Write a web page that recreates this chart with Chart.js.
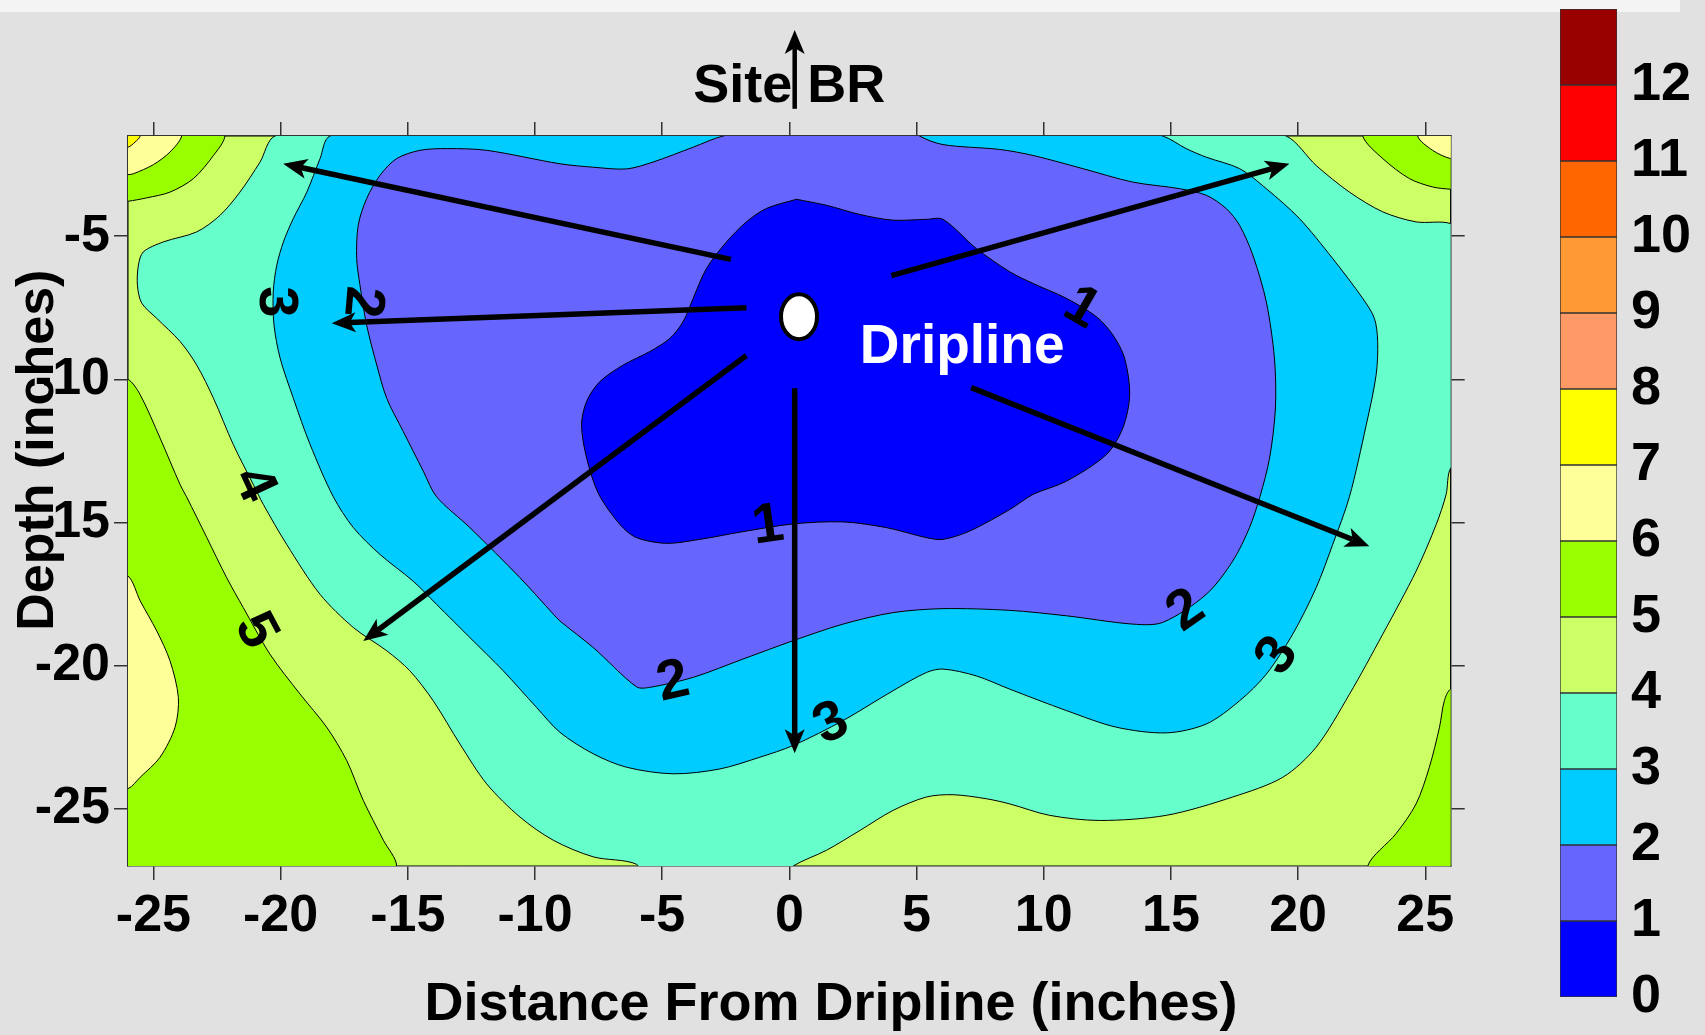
<!DOCTYPE html>
<html>
<head>
<meta charset="utf-8">
<script src="https://cdn.jsdelivr.net/npm/chart.js@4.4.1/dist/chart.umd.min.js"></script>
<style>
html, body { margin:0; padding:0; background:#e1e1e1; width:1705px; height:1035px; overflow:hidden; }
#strip { position:absolute; left:0; top:0; width:1680px; height:12px; background:#f4f4f4; }
#main { position:absolute; left:0; top:0; }
#bar { position:absolute; left:1555px; top:0; }
</style>
</head>
<body>
<div id="strip"></div>
<canvas id="main" width="1705" height="1035"></canvas>
<canvas id="bar" width="150" height="1035"></canvas>
<script>
// ---------- text ----------
const chartTitle = 'Site BR';
const xTitle = 'Distance From Dripline (inches)';
const yTitle = 'Depth (inches)';
const markerText = 'Dripline';

// ---------- axes ----------
const xTickValues = [-25, -20, -15, -10, -5, 0, 5, 10, 15, 20, 25];
const yTickValues = [-25, -20, -15, -10, -5];
const xRange = [-26, 26];
const yRange = [-27, -1.5];

// ---------- colour levels ----------
const levelEdges = [0, 1, 2, 3, 4, 5, 6, 7, 8, 9, 10, 11, 12, 13];
const levelTicks = [0, 1, 2, 3, 4, 5, 6, 7, 8, 9, 10, 11, 12];
const levelColors = ['#0000ff', '#6666ff', '#00ccff', '#66ffcc', '#ccff66', '#99ff00', '#ffff99',
                     '#ffff00', '#ff9966', '#ff9933', '#ff6600', '#ff0000', '#990000'];

// ---------- contour regions (x = distance, y = depth) ----------
const regionBackground = [[-26, -1.5], [26, -1.5], [26, -27], [-26, -27], [-26, -1.5]]; // level 4-5
const regionBlue = [[0.28,-3.71],[1.46,-3.92],[2.77,-4.24],[4.07,-4.44],[5.39,-4.41],[6.04,-4.41],[7.35,-5.43],[8.66,-6.24],[9.58,-6.65],[10.89,-7.17],[12.07,-7.81],[12.72,-8.45],[13.18,-9.26],[13.38,-10.54],[13.11,-11.7],[12.46,-12.63],[10.89,-13.56],[9.58,-14.02],[8.66,-14.55],[7.09,-15.3],[6.04,-15.59],[5.39,-15.53],[3.82,-15.18],[2.11,-14.98],[0.15,-15.05],[-1.82,-15.32],[-3.52,-15.59],[-4.83,-15.73],[-6.01,-15.53],[-6.66,-15.07],[-7.5,-14.0],[-7.97,-12.75],[-8.17,-11.59],[-7.97,-10.77],[-7.45,-10.08],[-6.53,-9.5],[-5.49,-9.03],[-4.7,-8.57],[-4.18,-7.99],[-3.78,-7.17],[-3.26,-6.13],[-2.47,-5.2],[-1.69,-4.5],[-0.9,-4.03],[0.28,-3.71]];
const regionPurple = [[1.5,-0.8],[-2.6,-1.5],[-3.78,-1.89],[-5.36,-2.41],[-6.4,-2.65],[-7.71,-2.59],[-9.02,-2.47],[-11.9,-2.0],[-13.47,-1.94],[-14.52,-2.0],[-15.44,-2.29],[-16.09,-2.87],[-16.62,-3.69],[-16.95,-4.62],[-17.01,-5.78],[-16.88,-6.71],[-16.62,-8.1],[-16.22,-9.5],[-15.83,-10.66],[-15.18,-11.82],[-14.39,-13.21],[-13.87,-14.1],[-12.56,-15.18],[-10.59,-16.93],[-9.28,-18.2],[-9.02,-18.44],[-7.71,-19.37],[-6.01,-20.74],[-5.49,-20.76],[-3.78,-20.41],[-1.82,-19.77],[0.15,-19.13],[2.11,-18.55],[4.07,-18.15],[6.04,-18.01],[8.66,-18.07],[10.89,-18.26],[13.5,-18.55],[14.68,-18.49],[16.39,-17.51],[17.43,-16.35],[18.09,-15.18],[18.5,-14.1],[18.88,-12.75],[19.11,-11.0],[19.07,-9.26],[18.75,-7.29],[18.22,-5.66],[17.7,-4.62],[17.17,-4.03],[16.39,-3.57],[15.34,-3.34],[13.5,-3.11],[11.54,-2.64],[9.58,-2.18],[8.27,-1.97],[6.04,-1.8],[5.12,-1.5],[4.0,-0.8],[1.5,-0.8]];
const regionCyan = [[0,-0.7],[-14,-0.7],[-18.06,-1.5],[-18.45,-2.29],[-18.97,-3.46],[-19.5,-4.38],[-19.89,-5.2],[-20.15,-6.01],[-20.29,-6.94],[-20.26,-8.1],[-20.02,-9.26],[-19.5,-10.66],[-18.84,-12.28],[-17.93,-14.1],[-17.14,-15.18],[-16.09,-16.12],[-14.79,-17.05],[-13.87,-17.86],[-12.56,-19.02],[-11.25,-20.18],[-9.94,-21.46],[-9.02,-22.33],[-7.71,-23.08],[-6.4,-23.55],[-4.57,-23.78],[-2.73,-23.61],[-1.16,-23.2],[0.15,-22.79],[2.11,-21.92],[4.07,-20.88],[5.39,-20.24],[6.04,-20.12],[7.35,-20.36],[8.66,-20.82],[10.89,-21.57],[12.85,-22.15],[14.82,-22.35],[16.39,-22.04],[17.7,-21.23],[18.75,-20.3],[19.79,-18.9],[20.71,-17.28],[21.36,-15.77],[22.02,-14.1],[22.68,-11.59],[23.07,-9.84],[23.13,-8.68],[23.0,-7.87],[22.54,-7.17],[21.36,-5.78],[20.05,-4.38],[18.75,-3.34],[17.7,-2.64],[16.39,-2.24],[15.6,-1.94],[14.68,-1.5],[11,-0.7],[0,-0.7]];
const regionAqua = [[0,-0.7],[-16,-0.7],[-20.22,-1.5],[-20.81,-2.41],[-21.6,-3.46],[-22.38,-4.27],[-23.3,-4.85],[-24.61,-5.2],[-25.4,-5.55],[-25.59,-6.01],[-25.63,-6.71],[-25.46,-7.34],[-24.87,-7.87],[-23.95,-8.68],[-23.3,-9.5],[-22.64,-10.66],[-21.86,-12.28],[-21.07,-13.68],[-20.68,-14.37],[-19.76,-15.77],[-18.45,-17.51],[-17.14,-18.67],[-15.83,-19.48],[-14.92,-20.18],[-14.0,-21.23],[-12.95,-22.74],[-11.9,-24.13],[-10.59,-25.29],[-9.28,-26.1],[-7.71,-26.68],[-6.01,-26.94],[-5.6,-27.6],[-0.6,-27.6],[0.15,-27.0],[1.46,-26.45],[2.77,-25.76],[4.07,-25.06],[5.39,-24.59],[6.43,-24.51],[7.74,-24.65],[8.66,-24.83],[10.23,-25.23],[12.2,-25.41],[14.82,-25.23],[17.43,-24.59],[19.4,-23.9],[20.71,-22.85],[22.02,-21.0],[23.33,-18.9],[24.64,-16.7],[25.43,-15.07],[25.82,-14.02],[26.0,-13.1],[26.9,-12.4],[26.9,-5.2],[26.0,-4.56],[24.64,-4.5],[23.33,-4.15],[22.02,-3.46],[20.71,-2.53],[19.53,-1.5],[16,-0.7],[0,-0.7]];
const regionGreenTL = [[-22.5,-0.8],[-22.19,-1.5],[-22.64,-2.18],[-23.43,-2.99],[-24.35,-3.46],[-25.26,-3.66],[-26.0,-3.78],[-26.8,-3.85],[-26.8,-0.8],[-22.5,-0.8]];
const regionPaleTL = [[-24.0,-0.8],[-23.89,-1.5],[-24.35,-2.06],[-25.0,-2.5],[-25.79,-2.82],[-26.0,-2.85],[-26.8,-2.9],[-26.8,-0.8],[-24.0,-0.8]];
const regionYellowTL = [[-25.4,-0.8],[-25.52,-1.5],[-25.72,-1.71],[-26.0,-1.89],[-26.8,-1.95],[-26.8,-0.8],[-25.4,-0.8]];
const regionGreenL = [[-26.8,-9.9],[-26.0,-10.0],[-25.52,-10.54],[-24.74,-12.05],[-23.95,-13.68],[-23.7,-14.1],[-22.9,-15.53],[-22.12,-16.93],[-21.47,-17.97],[-20.42,-19.6],[-19.24,-20.99],[-18.19,-22.15],[-17.4,-23.32],[-16.75,-24.71],[-15.96,-26.1],[-15.44,-27.0],[-16.0,-27.8],[-26.8,-27.8],[-26.8,-9.9]];
const regionPaleL = [[-26.8,-16.8],[-26.0,-16.87],[-25.52,-17.74],[-24.87,-18.79],[-24.35,-19.83],[-24.02,-21.11],[-24.15,-22.15],[-24.74,-23.2],[-25.52,-23.9],[-26.0,-24.3],[-26.8,-24.4],[-26.8,-16.8]];
const regionGreenTR = [[22.8,-0.8],[22.54,-1.5],[23.33,-2.29],[24.38,-2.99],[25.29,-3.28],[26.0,-3.36],[26.8,-3.4],[26.8,-0.8],[22.8,-0.8]];
const regionPaleTR = [[24.9,-0.8],[24.7,-1.5],[25.29,-2.0],[26.0,-2.29],[26.8,-2.3],[26.8,-0.8],[24.9,-0.8]];
const regionGreenBR = [[26.8,-20.7],[26.0,-20.82],[25.75,-21.23],[25.56,-22.15],[25.16,-23.55],[24.64,-24.83],[23.85,-25.87],[22.74,-27.0],[23.2,-27.8],[26.8,-27.8],[26.8,-20.7]];

// drawn top-most first
const regions = [
  {pts: regionYellowTL, level: 7}, {pts: regionPaleTL, level: 6}, {pts: regionGreenTL, level: 5},
  {pts: regionPaleTR, level: 6}, {pts: regionGreenTR, level: 5},
  {pts: regionPaleL, level: 6}, {pts: regionGreenL, level: 5}, {pts: regionGreenBR, level: 5},
  {pts: regionBlue, level: 0}, {pts: regionPurple, level: 1}, {pts: regionCyan, level: 2},
  {pts: regionAqua, level: 3}, {pts: regionBackground, level: 4, straight: true}
];

// ---------- contour labels ----------
const labelText  = ['3', '2', '4', '5', '1', '1', '2', '3', '2', '3'];
const labelX     = [-20.22, -16.81, -21.07, -21.0, 11.48, -0.84, -4.57, 1.65, 15.6, 19.2];
const labelY     = [-7.29, -7.29, -13.68, -18.79, -7.52, -15.13, -20.59, -22.04, -18.09, -19.66];
const labelAngle = [90, 95, 65, 62, 30, -8, -13, -25, -35, -56];

// ---------- arrows (data units) ----------
const arrowFromX = [-2.3, -1.69, -1.69, 0.21, 4.01, 7.15, 0.21];
const arrowFromY = [-5.81, -7.5, -9.17, -10.31, -6.38, -10.29, -0.55];
const arrowToX   = [-19.9, -17.99, -16.75, 0.21, 19.66, 22.8, 0.21];
const arrowToY   = [-2.47, -8.04, -19.14, -23.06, -2.47, -15.83, 2.2];

// ---------- dripline marker ----------
const dripX = [0.38];
const dripY = [-7.81];
const dripTextX = [2.77];
const dripTextY = [-9.44];

const FONT = "'Liberation Sans', Arial, Helvetica, sans-serif";
Chart.defaults.font.family = FONT;
Chart.defaults.color = '#000';

function drawArrow(ctx, x1, y1, x2, y2, w, hl, hw) {
  const a = Math.atan2(y2 - y1, x2 - x1);
  const c = Math.cos(a), s = Math.sin(a);
  const bx = x2 - hl * c, by = y2 - hl * s;
  const nx = x2 - hl * 0.75 * c, ny = y2 - hl * 0.75 * s;
  ctx.lineWidth = w;
  ctx.lineCap = 'butt';
  ctx.beginPath(); ctx.moveTo(x1, y1); ctx.lineTo(nx, ny); ctx.stroke();
  ctx.beginPath();
  ctx.moveTo(x2, y2);
  ctx.lineTo(bx + hw / 2 * s, by - hw / 2 * c);
  ctx.lineTo(nx, ny);
  ctx.lineTo(bx - hw / 2 * s, by + hw / 2 * c);
  ctx.closePath(); ctx.fill();
}

const overlay = {
  id: 'overlay',
  afterDatasetsDraw(chart) {
    const {ctx, scales: {x, y}} = chart;
    ctx.save();
    ctx.fillStyle = '#000';
    ctx.font = 'bold 56px ' + FONT;
    ctx.textAlign = 'center';
    ctx.textBaseline = 'middle';
    labelText.forEach((t, i) => {
      ctx.save();
      ctx.translate(x.getPixelForValue(labelX[i]), y.getPixelForValue(labelY[i]));
      ctx.rotate(labelAngle[i] * Math.PI / 180);
      ctx.fillText(t, 0, 0);
      ctx.restore();
    });
    ctx.restore();
  },
  afterDraw(chart) {
    const {ctx, scales: {x, y}} = chart;
    ctx.save();
    ctx.strokeStyle = '#000';
    ctx.fillStyle = '#000';
    arrowFromX.forEach((v, i) => {
      const last = i === arrowFromX.length - 1;
      drawArrow(ctx, x.getPixelForValue(arrowFromX[i]), y.getPixelForValue(arrowFromY[i]),
                x.getPixelForValue(arrowToX[i]), y.getPixelForValue(arrowToY[i]),
                last ? 4.5 : 5.5, 24, 20);
    });
    // dripline emitter
    dripX.forEach((v, i) => {
      ctx.beginPath();
      ctx.ellipse(x.getPixelForValue(dripX[i]), y.getPixelForValue(dripY[i]), 18, 22.5, 0, 0, Math.PI * 2);
      ctx.fillStyle = '#fff';
      ctx.fill();
      ctx.lineWidth = 4;
      ctx.strokeStyle = '#000';
      ctx.stroke();
    });
    ctx.fillStyle = '#fff';
    ctx.font = 'bold 55px ' + FONT;
    ctx.textAlign = 'left';
    ctx.textBaseline = 'alphabetic';
    ctx.fillText(markerText, x.getPixelForValue(dripTextX[0]), y.getPixelForValue(dripTextY[0]));
    ctx.restore();
  }
};

const gridOpts = {display: true, drawOnChartArea: false, drawTicks: true, tickLength: 14, color: '#333', lineWidth: 1.5};
const borderOpts = {display: true, color: '#333', width: 1.5};
const tickFont = {size: 52, weight: 'bold', lineHeight: 1.2};
const setXTicks = s => { s.ticks = xTickValues.map(v => ({value: v})); };
const setYTicks = s => { s.ticks = yTickValues.map(v => ({value: v})); };
const noPad = s => { s.paddingTop = 0; s.paddingBottom = 0; s.paddingLeft = 0; s.paddingRight = 0; };

new Chart(document.getElementById('main'), {
  type: 'line',
  data: {
    datasets: regions.map(r => ({
      data: r.pts.map(([px, py]) => ({x: px, y: py})),
      fill: 'shape',
      backgroundColor: levelColors[r.level],
      borderColor: '#000',
      borderWidth: 1,
      pointRadius: 0,
      pointHoverRadius: 0,
      tension: r.straight ? 0 : 0.3,
      spanGaps: true
    }))
  },
  options: {
    responsive: false,
    animation: false,
    devicePixelRatio: 1,
    events: [],
    layout: {autoPadding: false, padding: {left: 0, right: 43, top: -137, bottom: -2.4}},
    plugins: {
      legend: {display: false},
      tooltip: {enabled: false},
      title: {display: true, position: 'left', text: yTitle, color: '#000',
              font: {size: 52, weight: 'bold', lineHeight: 1.2}, padding: {top: 7, bottom: -50}},
      subtitle: {display: true, position: 'bottom', text: xTitle, color: '#000',
              font: {size: 54, weight: 'bold', lineHeight: 1.2}, padding: {top: 0, bottom: 0}}
    },
    scales: {
      x: {type: 'linear', position: 'bottom', min: xRange[0], max: xRange[1],
          afterBuildTicks: setXTicks, afterFit: s => { s.height = 106.6; noPad(s); },
          grid: gridOpts, border: borderOpts,
          ticks: {color: '#000', padding: 5, font: tickFont, autoSkip: false, minRotation: 0, maxRotation: 0, callback: v => String(v)}},
      y: {type: 'linear', position: 'left', min: yRange[0], max: yRange[1],
          afterBuildTicks: setYTicks, afterFit: s => { s.width = 108.6; noPad(s); },
          grid: gridOpts, border: borderOpts,
          ticks: {color: '#000', padding: 4, font: tickFont, autoSkip: false, callback: v => String(v)}},
      x2: {type: 'linear', position: 'top', min: xRange[0], max: xRange[1],
          afterBuildTicks: setXTicks, afterFit: s => { s.height = 273; noPad(s); },
          grid: gridOpts, border: borderOpts, ticks: {display: false},
          title: {display: true, text: chartTitle, color: '#000',
                  font: {size: 54, weight: 'bold', lineHeight: 1.2}, padding: {top: 191.6, bottom: 0}}},
      y2: {type: 'linear', position: 'right', min: yRange[0], max: yRange[1],
          afterBuildTicks: setYTicks, afterFit: s => { s.width = 211.3; noPad(s); },
          grid: gridOpts, border: borderOpts, ticks: {display: false}}
    }
  },
  plugins: [overlay]
});

// ---------- colour bar ----------
new Chart(document.getElementById('bar'), {
  type: 'bar',
  data: {
    labels: [''],
    datasets: levelColors.map((c, i) => ({
      data: [[levelEdges[i], levelEdges[i + 1]]],
      backgroundColor: c,
      borderColor: '#333',
      borderWidth: 1,
      borderSkipped: false,
      barPercentage: 1,
      categoryPercentage: 1,
      grouped: false
    }))
  },
  options: {
    responsive: false,
    animation: false,
    devicePixelRatio: 1,
    events: [],
    layout: {autoPadding: false, padding: {left: 5, right: 0, top: 9, bottom: 38}},
    plugins: {legend: {display: false}, tooltip: {enabled: false}},
    scales: {
      x: {display: false},
      y: {position: 'right', min: levelEdges[0], max: levelEdges[levelEdges.length - 1],
          afterBuildTicks: s => { s.ticks = levelTicks.map(v => ({value: v})); },
          afterFit: s => { s.width = 88; noPad(s); },
          grid: {display: false, drawTicks: false}, border: {display: false},
          ticks: {color: '#000', padding: 14, font: {size: 54, weight: 'bold', lineHeight: 1.2}, autoSkip: false, callback: v => String(v)}}
    }
  }
});
</script>
</body>
</html>
